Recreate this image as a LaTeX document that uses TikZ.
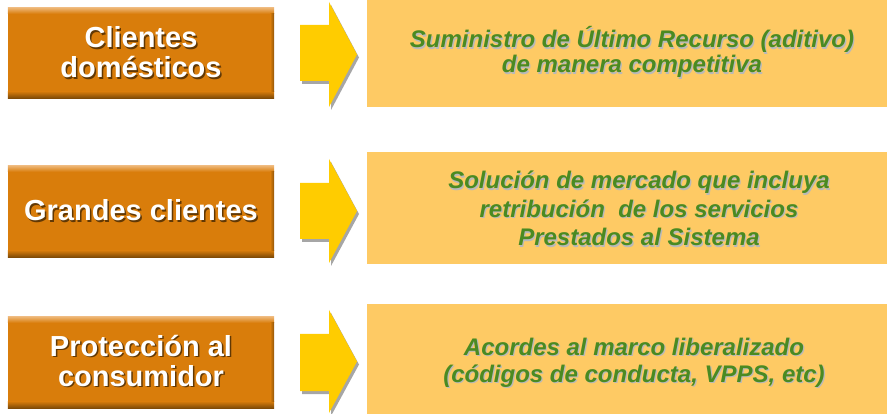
\documentclass[tikz,border=0pt]{standalone}
\usepackage{fontspec}
\setmainfont{Liberation Sans}
\usetikzlibrary{calc}
\definecolor{obox}{HTML}{D97D0B}
\definecolor{oboxlight}{HTML}{EDB574}
\definecolor{oboxdark}{HTML}{7E4A06}
\definecolor{ybox}{HTML}{FECA64}
\definecolor{yarrow}{HTML}{FFCC00}
\definecolor{gtext}{HTML}{4A8A22}
\newcommand\myarrow[5]{% name, head top, head bottom, tail top, tail bottom
  \fill[gray!70] ($(300,#4)+(2,3)$) -- ($(329,#4)+(2,3)$) -- ($(329,#2)+(2,3)$) -- ($(357,{(#2+#3)/2})+(2,3)$) -- ($(329,#3)+(2,3)$) -- ($(329,#5)+(2,3)$) -- ($(300,#5)+(2,3)$) -- cycle;
  \fill[yarrow] (300,#4) -- (329,#4) -- (329,#2) -- (357,{(#2+#3)/2}) coordinate (#1) -- (329,#3) -- (329,#5) -- (300,#5) -- cycle;
}
\newcommand\obevel[1]{%
  \shade[top color=oboxlight, bottom color=obox] (#1.north west) rectangle ([yshift=-6pt]#1.north east);
  \shade[top color=obox, bottom color=oboxdark] ([yshift=7pt]#1.south west) rectangle (#1.south east);
  \shade[left color=obox, right color=oboxdark!80!obox] ([xshift=-4pt,yshift=-6pt]#1.north east) rectangle ([yshift=7pt]#1.south east);
}
\begin{document}
\begin{tikzpicture}[x=1pt,y=-1pt,
  orangebox/.style={fill=obox, inner sep=0pt, minimum width=266pt},
  yellowbox/.style={fill=ybox, inner sep=0pt, minimum width=520pt},
  otext/.style={text=white, font=\bfseries\fontsize{29}{30}\selectfont, align=center, anchor=base},
  oshadow/.style={otext, text=black, opacity=0.55},
  gtextst/.style={text=gtext, font=\bfseries\itshape\fontsize{24}{#1}\selectfont, align=center, anchor=base},
  gshadow/.style={gtextst=#1, text=gray!55}
]
\useasboundingbox (0,0) rectangle (887,414);
% yellow boxes
\node[yellowbox, minimum height=107pt] (y1) at (627,53.5) {};
\node[yellowbox, minimum height=112pt] (y2) at (627,208) {};
\node[yellowbox, minimum height=110pt] (y3) at (627,359) {};
% orange boxes
\node[orangebox, minimum height=90pt] (o1) at (141,53) {};
\node[orangebox, minimum height=91pt] (o2) at (141,211.5) {};
\node[orangebox, minimum height=91pt] (o3) at (141,362.5) {};
\obevel{o1}\obevel{o2}\obevel{o3}
% arrows
\myarrow{a1}{2}{107}{25}{81}
\myarrow{a2}{159}{263}{183}{239}
\myarrow{a3}{310}{413}{334}{391}
% orange texts
\node[oshadow] (t1s) at (142.5,79.5) {Clientes\\domésticos};
\node[otext] (t1) at (141,78) {Clientes\\domésticos};
\node[oshadow] (t2s) at (142.5,222.5) {Grandes clientes};
\node[otext] (t2) at (141,221) {Grandes clientes};
\node[oshadow] (t3s) at (142.5,387.5) {Protección al\\consumidor};
\node[otext] (t3) at (141,386) {Protección al\\consumidor};
% green texts
\node[gshadow=25] (g1s) at (633.2,74.2) {Suministro de Último Recurso (aditivo)\\de manera competitiva};
\node[gtextst=25] (g1) at (632,73) {Suministro de Último Recurso (aditivo)\\de manera competitiva};
\node[gshadow=28.5] (g2s) at (640.2,247.2) {Solución de mercado que incluya\\retribución\ \ de los servicios\\Prestados al Sistema};
\node[gtextst=28.5] (g2) at (639,246) {Solución de mercado que incluya\\retribución\ \ de los servicios\\Prestados al Sistema};
\node[gshadow=27] (g3s) at (635.2,383.2) {Acordes al marco liberalizado\\(códigos de conducta, VPPS, etc)};
\node[gtextst=27] (g3) at (634,382) {Acordes al marco liberalizado\\(códigos de conducta, VPPS, etc)};
\end{tikzpicture}
\end{document}
